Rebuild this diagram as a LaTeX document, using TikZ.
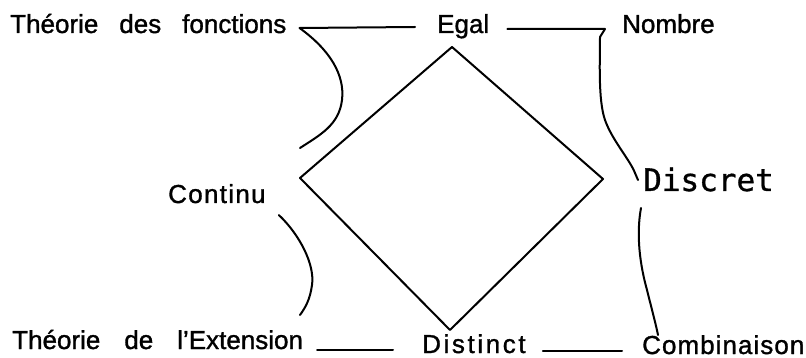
\documentclass[tikz,border=0pt]{standalone}
\usepackage{fontspec}
\setmainfont{Liberation Sans}
\newfontfamily\handfont{DejaVu Sans Mono}
\begin{document}
\begin{tikzpicture}[x=1pt,y=-1pt,
  lab/.style={inner sep=0pt, anchor=base west, font=\fontsize{26}{30}\selectfont\addfontfeature{FakeBold=1.2}},
  ln/.style={line width=2pt, line cap=round, line join=round}]
\useasboundingbox (0,0) rectangle (806,358);
% labels
\node[lab] (tf) at (10,33) {Théorie\hspace{21pt}des\hspace{21pt}fonctions};
\node[lab] (egal) at (437,33) {Egal};
\node[lab] (nombre) at (622,33) {Nombre};
\node[lab] (continu) at (168,203) {\addfontfeature{LetterSpace=5}Continu};
\node[lab, font=\handfont\fontsize{31}{34}\selectfont\addfontfeature{FakeBold=1}] (discret) at (643,191) {Discret};
\node[lab] (ext) at (12,349) {Théorie\hspace{24pt}de\hspace{24pt}l'Extension};
\node[lab] (dist) at (422,353) {\addfontfeature{LetterSpace=10}Distinct};
\node[lab] (comb) at (642,354) {\addfontfeature{LetterSpace=4}Combinaison};
% diamond
\coordinate (dT) at (452,47);
\coordinate (dR) at (603,179);
\coordinate (dB) at (450,330);
\coordinate (dL) at (300,178);
\draw[ln] (dT) -- (dR) -- (dB) -- (dL) -- cycle;
% top left: fonctions -- Egal, with hanging curve
\coordinate (tfEnd) at (300,148);
\draw[ln] ([shift={(13pt,5pt)}]tf.base east) coordinate (tfL) -- ([shift={(-22pt,6pt)}]egal.base west);
\draw[ln] (tfL) .. controls (330,50) and (345,75) .. (342,100)
  .. controls (339,125) and (320,135) .. (tfEnd);
% top right: Egal -- Nombre, curve down to Discret
\draw[ln] ([shift={(18pt,4pt)}]egal.base east) -- ([shift={(-17pt,4pt)}]nombre.base west) coordinate (nbC)
  -- (600,37) .. controls (600,60) and (598,100) .. (605,120)
  .. controls (612,140) and (630,160) .. (635,173) -- ([shift={(-5pt,11pt)}]discret.base west);
% Continu -- Extension
\coordinate (ctEnd) at (300,315);
\draw[ln] ([shift={(13pt,-12pt)}]continu.base east) .. controls (300,235) and (315,265) .. (312,285)
  .. controls (310,300) and (305,308) .. (ctEnd);
% Discret -- Combinaison
\draw[ln] ([shift={(-2pt,-17pt)}]discret.base west) .. controls (636,235) and (640,265) .. (647,290)
  .. controls (652,310) and (656,325) .. ([shift={(16pt,19pt)}]comb.base west);
% bottom lines
\draw[ln] ([shift={(14pt,-1pt)}]ext.base east) -- ([shift={(-29pt,3pt)}]dist.base west);
\draw[ln] ([shift={(17pt,2pt)}]dist.base east) -- ([shift={(-20pt,3pt)}]comb.base west);
\end{tikzpicture}
\end{document}
